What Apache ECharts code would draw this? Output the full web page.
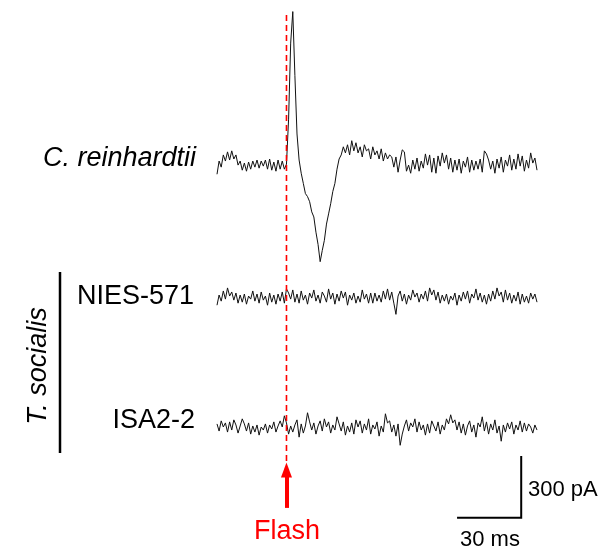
<!DOCTYPE html>
<html>
<head>
<meta charset="utf-8">
<script src="https://cdn.jsdelivr.net/npm/echarts@6/dist/echarts.min.js"></script>
<style>
html,body{margin:0;padding:0;background:#fff;}
#chart{width:599px;height:550px;}
</style>
</head>
<body>
<div id="chart"></div>
<script>
// Time window (ms, relative to flash) and trace labels
var timeStart = -33;
var timeEnd = 119;
var traceNames = ['C. reinhardtii', 'NIES-571', 'ISA2-2'];
var groupName = 'T. socialis';
var flashLabel = 'Flash';
var scaleTimeLabel = '30 ms';
var scaleCurrentLabel = '300 pA';
var scaleTime = 30;     // ms
var scaleCurrent = 300; // pA

// Photocurrent traces (pA, relative to each trace's baseline), 1 ms steps from timeStart
var creinhardtii = [
  -55, 10, -20, 40, 10, 55, 15, 60, 20, 40,
  -10, 10, -35, 0, -40, 5, -30, 10, -20, 15,
  -25, 10, -15, 15, -30, 20, -35, 5, -40, 15,
  -30, 10, -30,
  -5,
  216, 590, 745, 430, 143, 15, -50, -100, -150, -165,
  -190, -240, -265, -340, -400, -485, -430, -380, -300, -250,
  -200, -140, -100, -30, 20, 40, 80, 50,
  90, 40, 110, 60, 100, 50, 80, 30, 90, 60,
  70, 20, 80, 40, 60, 20, 70, 10, 50, 20, 40,
  30, -20, 30, -45, 15, 65, 55, -40, -10, -50,
  15, -30, 25, -40, 10, -25, 45, -10, 40, -45,
  25, -50, 35, -15, 50, 0, 40, -30, 25, -45,
  15, -35, 20, -50, 10, -20, 30, -45, 15, -35,
  10, -30, 20, -45, 60, 45, 15, -30, 10, -50,
  20, -25, 30, -45, 15, -15, 40, -35, 20, -30,
  45, -15, 35, -40, 15, -25, 50, 0, 25, -35
];
var nies571 = [
  -40, 10, -20, 30, -10, 45, 5, 25, -15, 20,
  -30, 10, -25, 15, -35, 5, -10, 30, -20, 15,
  -30, 25, -15, 5, -40, 20, -25, 10, -35, 15,
  -20, 25, -30, 40, 20, -10, 35, -25, 15, -30,
  30, -15, 10, -35, 20, -5, 35, -20, 10, -30,
  25, 5, -25, 40, -10, 20, -35, 15, -20, 30,
  -5, 25, -40, 10, -15, 20, -30, 5, -25, 35,
  -10, 15, -30, 20, -30, 20, -20, 10, -25, 30,
  -10, 40, -15, 25, -30, -85, 5, 30, -20, 15,
  -35, 10, -15, 35, 0, 20, -25, 15, -10, 30,
  -20, 45, 10, 35, -15, 25, -30, 10, -20, 15,
  -35, 5, -15, 20, -40, 10, -20, 25, -10, 30,
  -30, 15, -5, 40, -15, 20, -25, 10, -35, 15,
  -20, 30, -10, 45, 5, 25, -25, 35, -15, 20,
  -30, 10, -20, 25, -35, 15, -25, 5, -30, 20,
  -10, 15, -25
];
var isa22 = [
  20, -15, 35, 5, 25, -20, 30, -10, 40, 15,
  -25, 10, 45, 20, -15, 25, -30, 10, -20, 15,
  -35, 5, -10, 20, -25, 15, -5, 30, -20, 10,
  35, 5, 60, 25, -30, 10, -20, 15, 40, -45,
  20, -25, 10, 75, 30, -10, 25, -30, 10, 35,
  -15, 45, 5, 30, -25, 15, -10, 55, 20, -15,
  30, -35, 10, -20, 25, -30, 40, 5, 35, -25,
  20, -10, 45, -30, 15, -5, 30, -40, 10, -20,
  70, 25, 35, -20, 15, -40, 20, -85, -30, 10,
  40, -15, 25, 5, 45, -20, 30, -10, 15, -35,
  20, -25, 35, 10, -15, 30, -30, 15, -10, 45,
  20, 65, 25, 40, -10, 30, -25, 20, -35, 10,
  35, -20, 15, -45, 25, 5, 55, -15, 30, -30,
  20, -10, 40, -25, 10, -65, 15, -20, 25, -5,
  30, -30, 15, -10, 35, -20, 25, -15, 20, 5,
  -25, 15, -10
];

// Layout: vertical stacking offsets of the traces (pA) and scale bar anchor
var traceOffsets = [0, -659, -1303];
var scaleBarCorner = [111.5, -1745];
var flashLineRange = [728, -1470];
var flashArrowRange = [-1696, -1509];

function toPairs(values, offset) {
  var dt = (timeEnd - timeStart) / (values.length - 1);
  return values.map(function (v, i) { return [timeStart + i * dt, v + offset]; });
}

var traces = [creinhardtii, nies571, isa22];
var FONT = '"Liberation Sans", Arial, sans-serif';
var RED = '#ff0000';

var series = traces.map(function (vals, k) {
  return {
    type: 'line',
    data: toPairs(vals, traceOffsets[k]),
    showSymbol: false,
    symbol: 'none',
    lineStyle: { color: '#111', width: 1 },
    silent: true,
    z: 3
  };
});

// Flash dashed line
series.push({
  type: 'line',
  data: [[0, flashLineRange[0]], [0, flashLineRange[1]]],
  symbol: 'none',
  lineStyle: { color: RED, width: 1.6, type: [6, 4] },
  silent: true,
  z: 4
});
// Flash arrow
series.push({
  type: 'line',
  data: [],
  symbol: 'none',
  silent: true,
  markLine: {
    silent: true,
    animation: false,
    symbol: ['none', 'triangle'],
    symbolSize: [11, 15],
    label: { show: false },
    lineStyle: { color: RED, width: 4, type: 'solid' },
    data: [[{ coord: [0, flashArrowRange[0]] }, { coord: [0, flashArrowRange[1]] }]]
  }
});
// Scale bars
series.push({
  type: 'line',
  data: [
    [scaleBarCorner[0] - scaleTime, scaleBarCorner[1]],
    [scaleBarCorner[0], scaleBarCorner[1]],
    [scaleBarCorner[0], scaleBarCorner[1] + scaleCurrent]
  ],
  symbol: 'none',
  lineStyle: { color: '#000', width: 2, join: 'miter', cap: 'square' },
  silent: true
});

var chart = echarts.init(document.getElementById('chart'), null, { renderer: 'canvas' });
chart.setOption({
  animation: false,
  backgroundColor: '#fff',
  grid: { left: 217, top: 0, width: 320, height: 550 },
  xAxis: { type: 'value', min: timeStart, max: timeEnd, show: false },
  yAxis: { type: 'value', min: -1903, max: 802, show: false },
  series: series,
  graphic: [
    { type: 'text', x: 196, y: 158, style: { text: traceNames[0], font: 'italic 27px ' + FONT, fill: '#000', align: 'right', verticalAlign: 'middle' } },
    { type: 'text', x: 194, y: 297, style: { text: traceNames[1], font: '27px ' + FONT, fill: '#000', align: 'right', verticalAlign: 'middle' } },
    { type: 'text', x: 195, y: 421, style: { text: traceNames[2], font: '27px ' + FONT, fill: '#000', align: 'right', verticalAlign: 'middle' } },
    { type: 'text', x: 38, y: 366, rotation: Math.PI / 2, style: { text: groupName, font: 'italic 27px ' + FONT, fill: '#000', align: 'center', verticalAlign: 'middle' } },
    { type: 'line', shape: { x1: 60, y1: 272, x2: 60, y2: 453 }, style: { stroke: '#000', lineWidth: 2.5 } },
    { type: 'text', x: 287, y: 532, style: { text: flashLabel, font: '27px ' + FONT, fill: RED, align: 'center', verticalAlign: 'middle' } },
    { type: 'text', x: 528, y: 490, style: { text: scaleCurrentLabel, font: '22px ' + FONT, fill: '#000', align: 'left', verticalAlign: 'middle' } },
    { type: 'text', x: 460, y: 540, style: { text: scaleTimeLabel, font: '22px ' + FONT, fill: '#000', align: 'left', verticalAlign: 'middle' } }
  ]
});
</script>
</body>
</html>
